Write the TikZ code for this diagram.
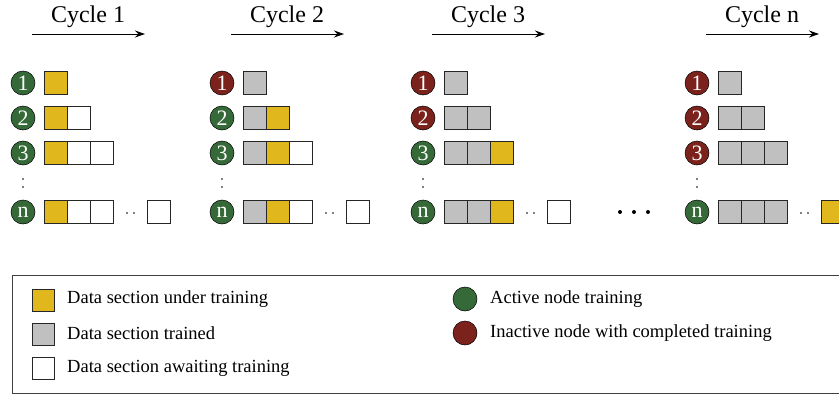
\documentclass[tikz,border=0pt]{standalone}
\usepackage{fontspec}
\setmainfont{Liberation Serif}
\usetikzlibrary{arrows.meta}
\definecolor{yel}{HTML}{E0B81E}
\definecolor{gry}{HTML}{C0C0C0}
\definecolor{grn}{HTML}{356938}
\definecolor{red}{HTML}{7B221C}
\tikzset{
  sq/.style={rectangle,draw=black!85,line width=0.9pt,minimum size=23,inner sep=0pt},
  ys/.style={sq,fill=yel},
  gs/.style={sq,fill=gry},
  ws/.style={sq,fill=white},
  nd/.style={circle,draw=black,line width=0.5pt,minimum size=24,inner sep=0pt,text=white,font=\fontsize{22}{22}\selectfont},
  act/.style={nd,fill=grn},
  ina/.style={nd,fill=red},
  lsq/.style={rectangle,draw=black!85,line width=0.9pt,minimum size=22,inner sep=0pt},
  lci/.style={circle,draw=black,line width=0.5pt,minimum size=24,inner sep=0pt},
  ltx/.style={anchor=west,inner sep=0pt,font=\fontsize{18.5}{20}\selectfont},
  ttl/.style={font=\fontsize{24}{26}\selectfont,inner sep=0pt},
  cyc/.style={-{Stealth[length=10pt,width=7pt]},line width=1pt},
  dt/.style={circle,fill=black,inner sep=0pt,minimum size=1.6pt},
  bdt/.style={circle,fill=black,inner sep=0pt,minimum size=4pt}
}
\begin{document}
\begin{tikzpicture}[x=1pt,y=-1pt]
\useasboundingbox (0,0) rectangle (839,399);
\foreach \cid/\cx/\title in {a/23/Cycle 1,b/222/Cycle 2,c/423/Cycle 3,d/697/Cycle n}{
  \node[ttl] (\cid t) at (\cx+65,17) {\title};
  \coordinate (\cid s) at (\cx+9,34);
  \coordinate (\cid e) at (\cx+122,34);
  \draw[cyc] (\cid s) -- (\cid e);
  \node[dt] (\cid v1) at (\cx,179) {};
  \node[dt] (\cid v2) at (\cx,187) {};
  \node[dt] (\cid h1) at (\cx+104,213) {};
  \node[dt] (\cid h2) at (\cx+111,213) {};
}
% Cycle 1 nodes
\node[act] (a1) at (23,83) {1};
\node[act] (a2) at (23,118) {2};
\node[act] (a3) at (23,153) {3};
\node[act] (an) at (23,212) {n};
\node[ys] (a1s1) at (55.5,83) {};
\node[ys] (a2s1) at (55.5,118) {};
\node[ws] (a2s2) at (78.5,118) {};
\node[ys] (a3s1) at (55.5,153) {};
\node[ws] (a3s2) at (78.5,153) {};
\node[ws] (a3s3) at (101.5,153) {};
\node[ys] (ans1) at (55.5,212) {};
\node[ws] (ans2) at (78.5,212) {};
\node[ws] (ans3) at (101.5,212) {};
\node[ws] (ansn) at (159,212) {};
% Cycle 2
\node[ina] (b1) at (222,83) {1};
\node[act] (b2) at (222,118) {2};
\node[act] (b3) at (222,153) {3};
\node[act] (bn) at (222,212) {n};
\node[gs] (b1s1) at (254.5,83) {};
\node[gs] (b2s1) at (254.5,118) {};
\node[ys] (b2s2) at (277.5,118) {};
\node[gs] (b3s1) at (254.5,153) {};
\node[ys] (b3s2) at (277.5,153) {};
\node[ws] (b3s3) at (300.5,153) {};
\node[gs] (bns1) at (254.5,212) {};
\node[ys] (bns2) at (277.5,212) {};
\node[ws] (bns3) at (300.5,212) {};
\node[ws] (bnsn) at (358,212) {};
% Cycle 3
\node[ina] (c1) at (423,83) {1};
\node[ina] (c2) at (423,118) {2};
\node[act] (c3) at (423,153) {3};
\node[act] (cn) at (423,212) {n};
\node[gs] (c1s1) at (455.5,83) {};
\node[gs] (c2s1) at (455.5,118) {};
\node[gs] (c2s2) at (478.5,118) {};
\node[gs] (c3s1) at (455.5,153) {};
\node[gs] (c3s2) at (478.5,153) {};
\node[ys] (c3s3) at (501.5,153) {};
\node[gs] (cns1) at (455.5,212) {};
\node[gs] (cns2) at (478.5,212) {};
\node[ys] (cns3) at (501.5,212) {};
\node[ws] (cnsn) at (559,212) {};
% Cycle n
\node[ina] (d1) at (697,83) {1};
\node[ina] (d2) at (697,118) {2};
\node[ina] (d3) at (697,153) {3};
\node[act] (dn) at (697,212) {n};
\node[gs] (d1s1) at (729.5,83) {};
\node[gs] (d2s1) at (729.5,118) {};
\node[gs] (d2s2) at (752.5,118) {};
\node[gs] (d3s1) at (729.5,153) {};
\node[gs] (d3s2) at (752.5,153) {};
\node[gs] (d3s3) at (775.5,153) {};
\node[gs] (dns1) at (729.5,212) {};
\node[gs] (dns2) at (752.5,212) {};
\node[gs] (dns3) at (775.5,212) {};
\node[ys] (dnsn) at (833,212) {};
% big dots between cycles
\node[bdt] (g1) at (620,212) {};
\node[bdt] (g2) at (634,212) {};
\node[bdt] (g3) at (648,212) {};
% ---- legend
\draw[line width=0.8pt,draw=black!75] (12,275) -- (850,275) (12,275) -- (12,393) -- (850,393);
\node[lsq,fill=yel] (l1) at (43,300) {};
\node[lsq,fill=gry] (l2) at (43,334) {};
\node[lsq,fill=white] (l3) at (43,368) {};
\node[ltx] (l1t) at (67,299) {Data section under training};
\node[ltx] (l2t) at (67,333) {Data section trained};
\node[ltx] (l3t) at (67,368) {Data section awaiting training};
\node[lci,fill=grn] (l4) at (465,299) {};
\node[lci,fill=red] (l5) at (465,333) {};
\node[ltx] (l4t) at (490,299) {Active node training};
\node[ltx] (l5t) at (490,333) {Inactive node with completed training};
\end{tikzpicture}
\end{document}
